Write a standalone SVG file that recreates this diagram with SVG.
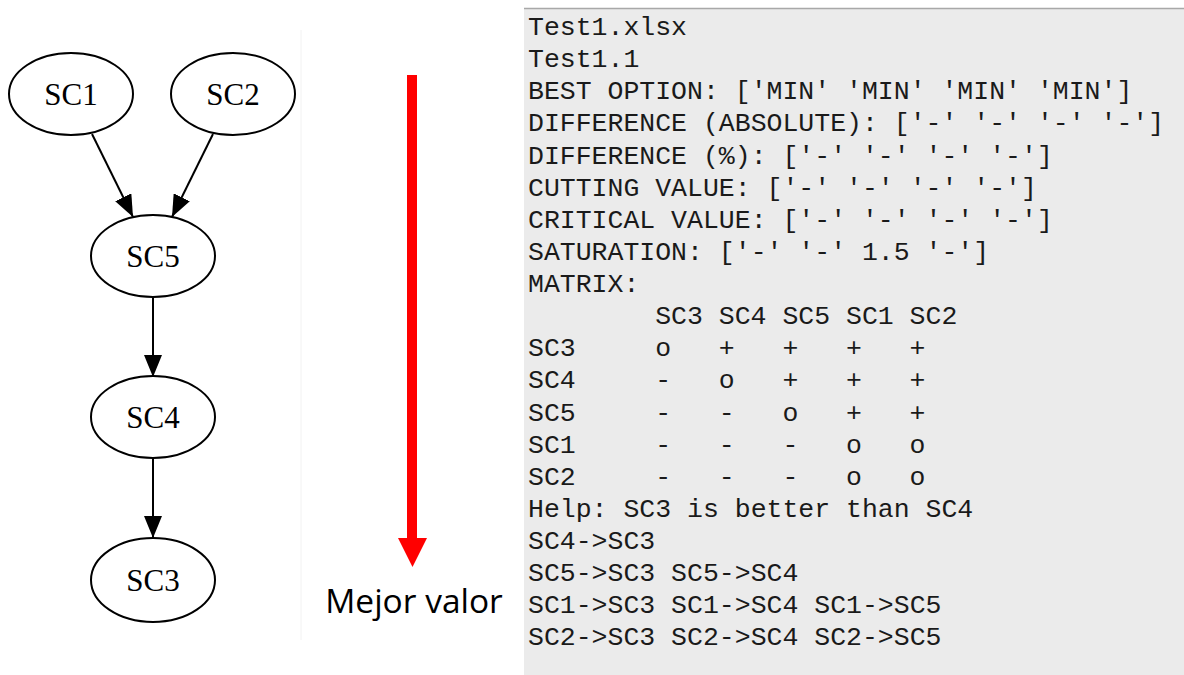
<svg xmlns="http://www.w3.org/2000/svg" width="1184" height="675" viewBox="0 0 1184 675">
<style>
.node ellipse{fill:#fff;stroke:#000;stroke-width:2}
.node text{font-family:"Liberation Serif","Times New Roman",serif;font-size:31px;text-anchor:middle;fill:#000}
.edge{stroke:#000;stroke-width:2;fill:none}
.mono{font-family:"Liberation Mono","Courier New",monospace;font-size:26.5px;fill:#1a1a1a}
</style>
<defs>
<marker id="ah" viewBox="0 0 22 18" refX="22" refY="9" markerWidth="22" markerHeight="18" markerUnits="userSpaceOnUse" orient="auto">
<path d="M0,0 L22,9 L0,18 Z" fill="#000"/>
</marker>
</defs>
<rect width="1184" height="675" fill="#fff"/>
<line x1="301" y1="30" x2="301" y2="640" stroke="#f2f2f2" stroke-width="1"/>
<g id="connectors">
<path class="edge" d="M92,134 L133,217" marker-end="url(#ah)"/>
<path class="edge" d="M213,134 L172,217" marker-end="url(#ah)"/>
<path class="edge" d="M153,297 L153,377" marker-end="url(#ah)"/>
<path class="edge" d="M153,458 L153,538" marker-end="url(#ah)"/>
</g>
<g id="SC1" class="node"><ellipse cx="71" cy="94" rx="62" ry="41"/><text x="71" y="105">SC1</text></g>
<g id="SC2" class="node"><ellipse cx="233" cy="94" rx="62" ry="41"/><text x="233" y="105">SC2</text></g>
<g id="SC5" class="node"><ellipse cx="153" cy="256" rx="62" ry="41"/><text x="153" y="267">SC5</text></g>
<g id="SC4" class="node"><ellipse cx="153" cy="417" rx="62" ry="41"/><text x="153" y="428">SC4</text></g>
<g id="SC3" class="node"><ellipse cx="153" cy="580" rx="62" ry="42"/><text x="153" y="591">SC3</text></g>
<g id="best-arrow">
<rect x="407" y="75" width="10" height="465" fill="#ff0000"/>
<path d="M398,538 L427,538 L412.5,567 Z" fill="#ff0000"/>
<text x="414" y="613" font-family="'Open Sans','Noto Sans',sans-serif" font-size="33.5" text-anchor="middle" fill="#000">Mejor valor</text>
</g>
<g id="console">
<rect x="524" y="8" width="660" height="667" fill="#ebebeb"/>
<line x1="524" y1="8.5" x2="1184" y2="8.5" stroke="#a8a8a8" stroke-width="1.5"/>
<g class="mono">
<text x="528" y="35">Test1.xlsx</text>
<text x="528" y="67">Test1.1</text>
<text x="528" y="99">BEST OPTION: ['MIN' 'MIN' 'MIN' 'MIN']</text>
<text x="528" y="131">DIFFERENCE (ABSOLUTE): ['-' '-' '-' '-']</text>
<text x="528" y="164">DIFFERENCE (%): ['-' '-' '-' '-']</text>
<text x="528" y="196">CUTTING VALUE: ['-' '-' '-' '-']</text>
<text x="528" y="228">CRITICAL VALUE: ['-' '-' '-' '-']</text>
<text x="528" y="260">SATURATION: ['-' '-' 1.5 '-']</text>
<text x="528" y="292">MATRIX:</text>
<text y="324"><tspan x="655.2">SC3</tspan><tspan x="718.8">SC4</tspan><tspan x="782.4">SC5</tspan><tspan x="846">SC1</tspan><tspan x="909.6">SC2</tspan></text>
<text y="356"><tspan x="528">SC3</tspan><tspan x="655.2">o</tspan><tspan x="718.8">+</tspan><tspan x="782.4">+</tspan><tspan x="846">+</tspan><tspan x="909.6">+</tspan></text>
<text y="388"><tspan x="528">SC4</tspan><tspan x="655.2">-</tspan><tspan x="718.8">o</tspan><tspan x="782.4">+</tspan><tspan x="846">+</tspan><tspan x="909.6">+</tspan></text>
<text y="421"><tspan x="528">SC5</tspan><tspan x="655.2">-</tspan><tspan x="718.8">-</tspan><tspan x="782.4">o</tspan><tspan x="846">+</tspan><tspan x="909.6">+</tspan></text>
<text y="453"><tspan x="528">SC1</tspan><tspan x="655.2">-</tspan><tspan x="718.8">-</tspan><tspan x="782.4">-</tspan><tspan x="846">o</tspan><tspan x="909.6">o</tspan></text>
<text y="485"><tspan x="528">SC2</tspan><tspan x="655.2">-</tspan><tspan x="718.8">-</tspan><tspan x="782.4">-</tspan><tspan x="846">o</tspan><tspan x="909.6">o</tspan></text>
<text x="528" y="517">Help: SC3 is better than SC4</text>
<text x="528" y="549">SC4-&gt;SC3</text>
<text x="528" y="581">SC5-&gt;SC3 SC5-&gt;SC4</text>
<text x="528" y="613">SC1-&gt;SC3 SC1-&gt;SC4 SC1-&gt;SC5</text>
<text x="528" y="645">SC2-&gt;SC3 SC2-&gt;SC4 SC2-&gt;SC5</text>
</g>
</g>
</svg>
